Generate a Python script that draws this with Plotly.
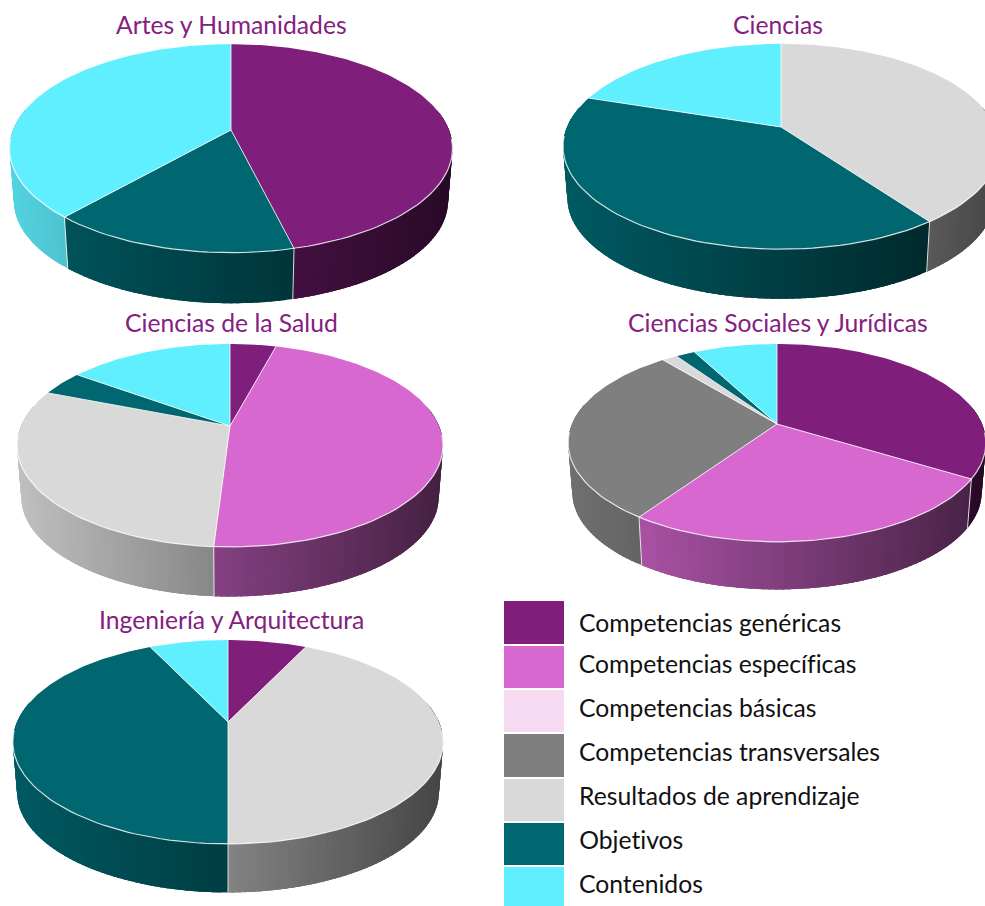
import math
import plotly.graph_objects as go

# ---------- data ----------
categories = ["Competencias genéricas", "Competencias específicas", "Competencias básicas",
              "Competencias transversales", "Resultados de aprendizaje", "Objetivos", "Contenidos"]
artes = [46.15, 0, 0, 0, 0, 15.38, 38.47]
ciencias = [0, 0, 0, 0, 40, 40, 20]
salud = [4.2, 46.8, 0, 0, 29.9, 4.0, 15.1]
sociales = [33.7, 25.9, 0, 29.4, 1.4, 1.8, 7.8]
ingenieria = [7.14, 0, 0, 0, 42.86, 42.86, 7.14]
titles = ["Artes y Humanidades", "Ciencias", "Ciencias de la Salud",
          "Ciencias Sociales y Jurídicas", "Ingeniería y Arquitectura"]

# ---------- styles / layout ----------
colors = ["#7F1F7B", "#D668D0", "#F5DAF2", "#7F7F7F", "#D9D9D9", "#00666F", "#5FEFFF"]
TITLE_COLOR = "#84207F"
# cx, cy (hub), R, H, k (perspective), depth, title x, title y
geometry = [
    (231, 130, 218, 101, 0.177, 53, 231, 24),
    (781, 127, 214, 99, 0.190, 52, 778, 24),
    (230, 426, 209, 97.7, 0.192, 52, 231, 322),
    (777, 424, 205, 95.3, 0.191, 50, 778, 322),
    (228, 722, 211, 98, 0.196, 51, 231, 619),
]
legend_boxes = [(601, 644), (646, 688), (690, 732), (734, 777), (779, 821), (823, 865), (867, 906)]
legend_text_y = [622, 663, 707, 751, 795, 839, 883]


def project(t_deg, g, scale=1.0, dy=0.0):
    cx, cy, R, H, k = g[:5]
    t = math.radians(t_deg)
    u, v = math.sin(t), math.cos(t)
    s = 1 / (1 + k * v)
    return cx + scale * R * u * s, cy + dy - scale * H * v * s


def shade(hex_color, f):
    r, g, b = (int(hex_color[i:i + 2], 16) for i in (1, 3, 5))
    return f"rgb({int(r * f)},{int(g * f)},{int(b * f)})"


def poly(fig, xs, ys, color):
    fig.add_trace(go.Scatter(x=xs, y=ys, mode="lines", fill="toself", fillcolor=color,
                             line=dict(color=color, width=0), hoverinfo="skip", showlegend=False))


def line(fig, xs, ys, width=1.0, color="rgba(255,255,255,0.8)"):
    fig.add_trace(go.Scatter(x=xs, y=ys, mode="lines", line=dict(color=color, width=width),
                             hoverinfo="skip", showlegend=False))


def draw_pie(fig, values, g):
    cx, cy, R, H, k, depth = g[:6]
    total = sum(values)
    spans, acc = [], 0.0
    for i, val in enumerate(values):
        if val > 0:
            a0 = acc / total * 360
            acc += val
            spans.append((i, a0, acc / total * 360))
    # side wall: painted right to left, each strip running on under the next one
    step = 1.5
    for i, a0, a1 in spans:
        lo, hi = max(a0, 78), min(a1, 282)
        t = lo
        while t < hi:
            t2 = min(t + step, hi)
            t3 = min(t + 2.5 * step, hi)
            p0, p1 = project(t, g), project(t3, g)
            mid = project((t + t2) / 2, g)
            q0, q1 = project(t, g, 0.98, depth), project(t3, g, 0.98, depth)
            frac = (mid[0] - (cx - R)) / (2 * R)
            f = 0.88 - 0.55 * frac
            pm, qm = project((t + t3) / 2, g), project((t + t3) / 2, g, 0.98, depth)
            poly(fig, [p0[0], pm[0], p1[0], q1[0], qm[0], q0[0], p0[0]],
                 [p0[1], pm[1], p1[1], q1[1], qm[1], q0[1], p0[1]], shade(colors[i], f))
            t = t2
    # top slices
    for i, a0, a1 in spans:
        n = max(2, int(a1 - a0))
        pts = [project(a0 + (a1 - a0) * j / n, g) for j in range(n + 1)]
        poly(fig, [cx] + [p[0] for p in pts] + [cx], [cy] + [p[1] for p in pts] + [cy], colors[i])
    # separators and rim
    for i, a0, a1 in spans:
        p = project(a0, g)
        line(fig, [cx, p[0]], [cy, p[1]])
        if 90 < a0 < 270:
            q = project(a0, g, 0.98, depth)
            line(fig, [p[0], q[0]], [p[1], q[1]])
    rim = [project(t, g) for t in range(95, 266, 2)]
    line(fig, [p[0] for p in rim], [p[1] for p in rim], width=1.2)


fig = go.Figure()
for vals, g in zip([artes, ciencias, salud, sociales, ingenieria], geometry):
    draw_pie(fig, vals, g)

annotations = [dict(x=g[6], y=g[7], xref="x", yref="y", text=t, showarrow=False,
                    xanchor="center", yanchor="middle",
                    font=dict(family="Lato", size=24.7, color=TITLE_COLOR))
               for t, g in zip(titles, geometry)]
annotations += [dict(x=577, y=y, xref="x", yref="y", text=c, showarrow=False,
                     xanchor="left", yanchor="middle",
                     font=dict(family="Lato", size=24.7, color="#111111"))
                for c, y in zip(categories, legend_text_y)]
shapes = [dict(type="rect", x0=504, x1=564, y0=b[0], y1=b[1], xref="x", yref="y",
               fillcolor=c, line=dict(width=0))
          for b, c in zip(legend_boxes, colors)]

fig.update_layout(
    width=985, height=906, margin=dict(l=0, r=0, t=0, b=0),
    paper_bgcolor="white", plot_bgcolor="white", showlegend=False,
    xaxis=dict(range=[0, 985], visible=False, fixedrange=True),
    yaxis=dict(range=[906, 0], visible=False, fixedrange=True),
    annotations=annotations, shapes=shapes,
)
fig.write_html(
    "out.html",
    config={"displayModeBar": False},
    post_script=("document.body.style.margin='0';"
                 "var s=document.createElement('style');"
                 "s.textContent='svg text{font-variant-ligatures:none!important;"
                 "font-feature-settings:\"liga\" 0,\"clig\" 0!important}';"
                 "document.head.appendChild(s);"),
)
